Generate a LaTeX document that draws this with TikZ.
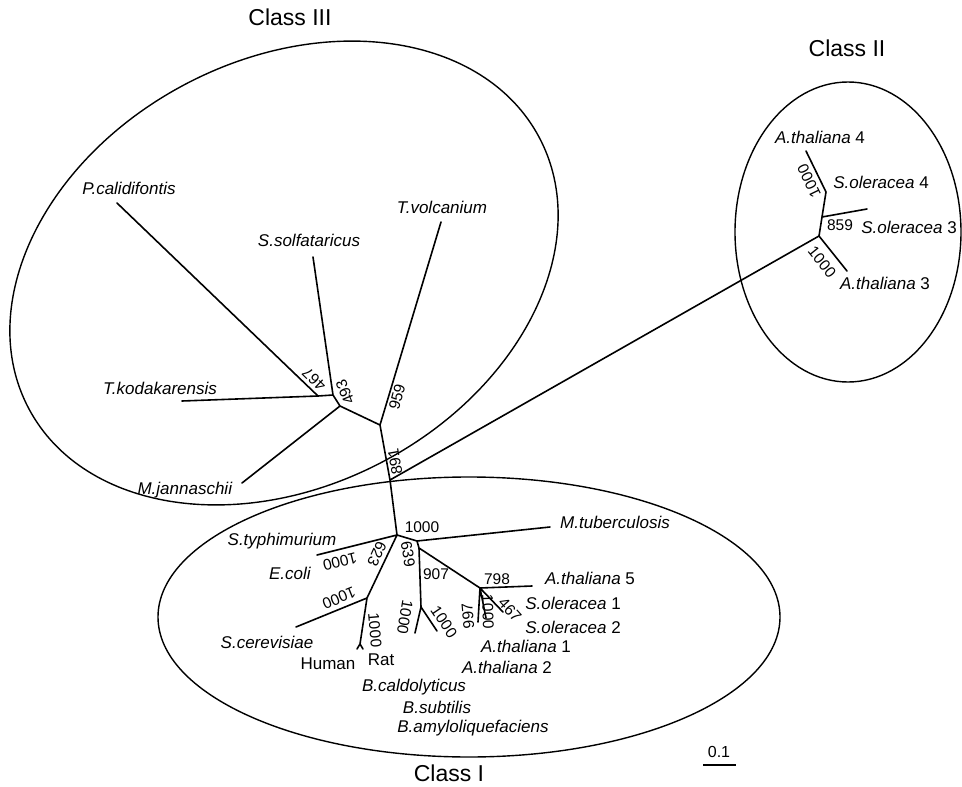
\documentclass[tikz,border=0pt]{standalone}
\usepackage{fontspec}
\setmainfont{Liberation Sans}
\begin{document}
\begin{tikzpicture}[x=1pt,y=-1pt,
  br/.style={line width=1.6pt, line cap=round, line join=round},
  ell/.style={line width=1.4pt},
  sp/.style={font=\fontsize{17}{17}\selectfont, inner sep=0pt},
  bs/.style={font=\fontsize{15.5}{15.5}\selectfont, inner sep=0pt},
  cls/.style={font=\fontsize{23}{23}\selectfont, inner sep=0pt}]
\useasboundingbox (0,0) rectangle (962,787);
% ---- ellipses
\draw[ell, rotate around={28:(284,273)}] (284,273) ellipse [x radius=289, y radius=213];
\draw[ell] (848,232) ellipse [x radius=113, y radius=150];
\draw[ell] (469,617) ellipse [x radius=311, y radius=140];
% ---- tree points
\coordinate (Pc) at (117,203);
\coordinate (Tk) at (182,401);
\coordinate (A) at (318,396);
\coordinate (B) at (333,395);
\coordinate (Ss) at (313,257);
\coordinate (C) at (340,406);
\coordinate (Mj) at (242,483);
\coordinate (D) at (380,425);
\coordinate (Tv) at (441,222);
\coordinate (E) at (390,480);
\coordinate (R) at (397,535);
\coordinate (F) at (819,236);
\coordinate (G) at (822,217);
\coordinate (H) at (826,192);
\coordinate (At3) at (847,271);
\coordinate (So3) at (867,209);
\coordinate (At4) at (806,151);
\coordinate (M) at (417,541);
\coordinate (Mt) at (550,527);
\coordinate (N) at (419,548);
\coordinate (P) at (421,607);
\coordinate (Bc) at (415,633);
\coordinate (Bs) at (437,631);
\coordinate (Q) at (480,588);
\coordinate (At5) at (532,586);
\coordinate (So1) at (503,612);
\coordinate (At1) at (478,622);
\coordinate (So2) at (486,618);
\coordinate (Ec) at (317,555);
\coordinate (S) at (367,598);
\coordinate (Sc) at (296,627);
\coordinate (HR) at (360,644);
\coordinate (Hu) at (357,649);
\coordinate (Ra) at (363,649);
% ---- branches
\draw[br] (Pc) -- (A) (Tk) -- (A) -- (B) -- (C) -- (D) -- (E) -- (R)
  (Ss) -- (B) (Mj) -- (C) (Tv) -- (D) (E) -- (F);
\draw[br] (F) -- (At3) (F) -- (G) -- (H) -- (At4) (G) -- (So3);
\draw[br] (R) -- (M) -- (Mt) (M) -- (N) -- (P) -- (Bc) (P) -- (Bs)
  (N) -- (Q) -- (At5) (Q) -- (So1) (Q) -- (At1) (Q) -- (So2)
  (R) -- (Ec) (R) -- (S) -- (Sc) (S) -- (HR) -- (Hu) (HR) -- (Ra);
% ---- class labels
\node[cls] (c3) at (290,17) {Class III};
\node[cls] (c2) at (847,48) {Class II};
\node[cls] (c1) at (449,773) {Class I};
% ---- species labels
\node[sp] (lPc) at (129,188) {\textit{P.calidifontis}};
\node[sp] (lSs) at (309,240) {\textit{S.solfataricus}};
\node[sp] (lTv) at (442,207) {\textit{T.volcanium}};
\node[sp] (lTk) at (160,388) {\textit{T.kodakarensis}};
\node[sp] (lMj) at (185,490) {\textit{M.jannaschii}};
\node[sp] (lAt4) at (820,137) {\textit{A.thaliana} 4};
\node[sp] (lSo4) at (881,182) {\textit{S.oleracea} 4};
\node[sp] (lSo3) at (909,227) {\textit{S.oleracea} 3};
\node[sp] (lAt3) at (885,283) {\textit{A.thaliana} 3};
\node[sp] (lMt) at (615,522) {\textit{M.tuberculosis}};
\node[sp] (lAt5) at (590,578) {\textit{A.thaliana} 5};
\node[sp] (lSo1) at (573,603) {\textit{S.oleracea} 1};
\node[sp] (lSo2) at (573,627) {\textit{S.oleracea} 2};
\node[sp] (lAt1) at (526,646) {\textit{A.thaliana} 1};
\node[sp] (lAt2) at (507,667) {\textit{A.thaliana} 2};
\node[sp] (lBc) at (414,687) {\textit{B.caldolyticus}};
\node[sp] (lBs) at (437,707) {\textit{B.subtilis}};
\node[sp] (lBa) at (473,728) {\textit{B.amyloliquefaciens}};
\node[sp] (lHu) at (328,664) {Human};
\node[sp] (lRa) at (381,660) {Rat};
\node[sp] (lSc) at (267,642) {\textit{S.cerevisiae}};
\node[sp] (lEc) at (290,573) {\textit{E.coli}};
\node[sp] (lSt) at (282,541) {\textit{S.typhimurium}};
% ---- bootstrap values
\node[bs, rotate=136] (b467a) at (314,379) {467};
\node[bs, rotate=112] (b493) at (345,392) {493};
\node[bs, rotate=75] (b959) at (397,397) {959};
\node[bs, rotate=100] (b891) at (395,462) {891};
\node[bs, rotate=116] (b1000a) at (809,181) {1000};
\node[bs] (b859) at (840,225) {859};
\node[bs, rotate=-51] (b1000b) at (822,262) {1000};
\node[bs] (b1000c) at (422,527) {1000};
\node[bs, rotate=-80] (b639) at (408,554) {639};
\node[bs, rotate=-114] (b623) at (377,554) {623};
\node[bs, rotate=194] (b1000d) at (340,562) {1000};
\node[bs, rotate=202] (b1000e) at (339,598) {1000};
\node[bs, rotate=-85] (b1000f) at (375,630) {1000};
\node[bs] (b907) at (436,574) {907};
\node[bs, rotate=-100] (b1000g) at (405,617) {1000};
\node[bs, rotate=-56] (b1000h) at (444,622) {1000};
\node[bs] (b798) at (497,579) {798};
\node[bs, rotate=95] (b997) at (468,616) {997};
\node[bs, rotate=-88] (b1000i) at (488,612) {1000};
\node[bs, rotate=-48] (b467b) at (510,610) {467};
% ---- scale bar
\node[bs, font=\fontsize{16}{16}\selectfont] (sc) at (719,752) {0.1};
\coordinate (s1) at (703,765);
\coordinate (s2) at (736,765);
\draw[line width=1.4pt] (s1) -- (s2);
\end{tikzpicture}
\end{document}
